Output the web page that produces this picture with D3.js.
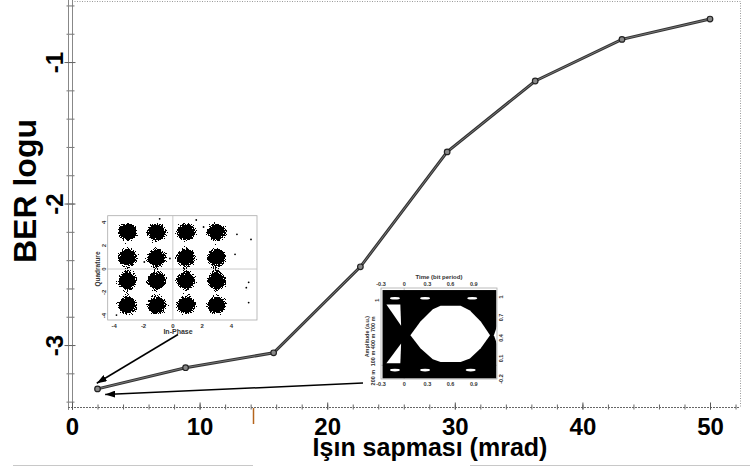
<!DOCTYPE html>
<html>
<head>
<meta charset="utf-8">
<script src="https://cdn.jsdelivr.net/npm/d3@7"></script>
<style>
  body { margin: 0; background: #fff; }
  svg { display: block; font-family: "Liberation Sans", Arial, sans-serif; }
</style>
</head>
<body>
<div id="chart-container"></div>
<script>
/**************************************************
 * Data
 **************************************************/

// Main curve: beam deviation (mrad) vs log of BER
const deviation = [2, 8.9, 15.8, 22.6, 29.4, 36.3, 43.1, 50];
const berLog = [-3.31, -3.16, -3.055, -2.447, -1.635, -1.134, -0.84, -0.696];

const xMajorTicks = [0, 10, 20, 30, 40, 50];
const yMajorTicks = [-3, -2, -1];

// Constellation inset (16-QAM clusters)
const iLevels = [-3.1, -1.1, 0.9, 3.0];
const qLevels = [3.2, 1.0, -1.0, -3.1];
const constOutliers = [[4.38, 2.97], [5.34, 2.54], [4.25, 1.26], [5.18, -1.14], [5.02, -1.6],
  [5.18, -2.88], [-3.85, -3.95], [1.6, 4.2], [-0.9, 4.3], [2.1, 3.6], [-1.95, 0.6], [-0.2, 0.9]];
const constTicks = [-4, -2, 0, 2, 4];

// Eye diagram inset
const eyeTimeTicks = [-0.3, 0, 0.3, 0.6, 0.9];
const eyeAmpTicks = [1, 0.7, 0.4, 0.1, -0.2];
const eyeDistLabels = ["200 m", "100 m", "400 m", "700 m"];
const eyeDistPos = [-0.18, 0.1, 0.35, 0.6];
// openings in the black trace area, [time, amplitude]
const eyeMain = [[0.08, 0.44], [0.21, 0.64], [0.37, 0.82], [0.47, 0.87], [0.73, 0.87],
  [0.85, 0.8], [0.99, 0.64], [1.11, 0.44], [0.99, 0.25], [0.85, 0.1], [0.73, 0.05],
  [0.47, 0.05], [0.37, 0.09], [0.21, 0.25]];
const eyeUpperLeft = [[-0.23, 0.89], [-0.05, 0.89], [-0.04, 0.58]];
const eyeLowerLeft = [[-0.23, 0.03], [-0.05, 0.03], [-0.04, 0.32]];
const eyeRight = [[1.16, 0.44], [1.2, 0.57], [1.2, 0.31]];
const eyeSlits = [[-0.12, 0.98], [0.27, 0.98], [0.88, 0.98], [-0.12, -0.07], [0.27, -0.07], [0.86, -0.07]];

/**************************************************
 * Rendering
 **************************************************/

const W = 750, H = 475;
const svg = d3.select("#chart-container")
  .append("svg")
  .attr("width", W)
  .attr("height", H);

const defs = svg.append("defs");

defs.append("marker")
  .attr("id", "arrow")
  .attr("markerUnits", "userSpaceOnUse")
  .attr("markerWidth", 10)
  .attr("markerHeight", 7)
  .attr("refX", 10)
  .attr("refY", 3.5)
  .attr("orient", "auto")
  .append("path")
  .attr("d", "M0,0 L10,3.5 L0,7 Z")
  .attr("fill", "#000");

// speckled cluster look for the constellation
const speck = defs.append("filter")
  .attr("id", "speck")
  .attr("filterUnits", "userSpaceOnUse")
  .attr("x", 90).attr("y", 210).attr("width", 180).attr("height", 120)
  .attr("color-interpolation-filters", "sRGB");
speck.append("feGaussianBlur").attr("in", "SourceAlpha").attr("stdDeviation", 5).attr("result", "b");
speck.append("feTurbulence").attr("type", "fractalNoise").attr("baseFrequency", 1.1)
  .attr("numOctaves", 1).attr("seed", 7).attr("result", "n");
speck.append("feColorMatrix").attr("in", "n").attr("type", "matrix")
  .attr("values", "0 0 0 0 0  0 0 0 0 0  0 0 0 0 0  1 0 0 0 0").attr("result", "na");
speck.append("feComposite").attr("in", "b").attr("in2", "na").attr("operator", "arithmetic")
  .attr("k1", 0).attr("k2", 1.7).attr("k3", 1.2).attr("k4", -0.9).attr("result", "c");
speck.append("feComponentTransfer").attr("in", "c")
  .append("feFuncA").attr("type", "discrete").attr("tableValues", "0 0 0 1 1");

// Scales
const xScale = d3.scaleLinear().domain([0, 52.35]).range([72, 740]);
const yScale = d3.scaleLinear().domain([-3.44, -0.57]).range([407.3, 1.2]);

// Plot frame (dotted top and right)
svg.append("path")
  .attr("d", `M72,1.5 H740.5 V407.5`)
  .attr("fill", "none")
  .attr("stroke", "#999")
  .attr("stroke-dasharray", "1,1.5");

// Left axis: double line with minor ticks
const yMinor = d3.range(-17, -2).map(v => v / 5);
const yAxisMinor = svg.append("g")
  .attr("transform", "translate(72.5,0)")
  .call(d3.axisLeft(yScale).tickValues(yMinor).tickSize(6).tickSizeOuter(0).tickFormat(""));
yAxisMinor.selectAll(".tick line").attr("x1", 2).attr("stroke", "#777");
yAxisMinor.select(".domain").attr("stroke", "#888").attr("d", "M0,0V410");
svg.append("line")
  .attr("x1", 68.5).attr("x2", 68.5).attr("y1", 0).attr("y2", 410)
  .attr("stroke", "#888");

const yAxisMajor = svg.append("g")
  .attr("transform", "translate(72.5,0)")
  .call(d3.axisLeft(yScale).tickValues(yMajorTicks).tickSize(8).tickSizeOuter(0).tickFormat(d3.format("d")));
yAxisMajor.select(".domain").remove();
yAxisMajor.selectAll(".tick line").attr("x1", 3).attr("stroke", "#666");
yAxisMajor.selectAll(".tick text")
  .attr("x", null).attr("dy", null)
  .attr("transform", "translate(-9.5,0) rotate(-90)")
  .attr("text-anchor", "middle")
  .attr("font-size", "24px")
  .attr("font-weight", "bold")
  .attr("fill", "#000")
  .attr("font-family", "Liberation Sans, Arial, sans-serif")
  .text(d => d3.format("d")(d).replace("−", "-"));

// Bottom axis
const xMinor = d3.range(0, 53, 2);
const xAxisMinor = svg.append("g")
  .attr("transform", "translate(0,407.5)")
  .call(d3.axisBottom(xScale).tickValues(xMinor).tickSize(-3).tickSizeOuter(0).tickFormat(""));
xAxisMinor.selectAll(".tick line").attr("y1", 2).attr("stroke", "#666");
xAxisMinor.select(".domain").attr("stroke", "#666").attr("stroke-dasharray", "2,1")
  .attr("d", "M68,0H740");

const xAxisMajor = svg.append("g")
  .attr("transform", "translate(0,407.5)")
  .call(d3.axisBottom(xScale).tickValues(xMajorTicks).tickSize(-5).tickSizeOuter(0));
xAxisMajor.select(".domain").remove();
xAxisMajor.selectAll(".tick line").attr("y1", 2).attr("stroke", "#555");
xAxisMajor.selectAll(".tick text")
  .attr("y", 27.5).attr("dy", null)
  .attr("font-size", "24px")
  .attr("font-weight", "bold")
  .attr("fill", "#000")
  .attr("font-family", "Liberation Sans, Arial, sans-serif");

// Axis titles
svg.append("text")
  .attr("transform", "translate(36,191) rotate(-90)")
  .attr("text-anchor", "middle")
  .attr("font-size", "32px")
  .attr("font-weight", "bold")
  .text("BER logu");

svg.append("text")
  .attr("x", 430)
  .attr("y", 456)
  .attr("text-anchor", "middle")
  .attr("font-size", "25px")
  .attr("font-weight", "bold")
  .text("Işın sapması (mrad)");

// stray marks below the chart
svg.append("line")
  .attr("x1", 253.5).attr("x2", 253.5).attr("y1", 408).attr("y2", 424)
  .attr("stroke", "#b5651d").attr("stroke-width", 1.5);
svg.append("path")
  .attr("d", "M13,465.5H253M470,465.5H750")
  .attr("stroke", "#c8c8c8").attr("fill", "none");

/**************************************************
 * Constellation inset
 **************************************************/
const iS = d3.scaleLinear().domain([-4.45, 5.75]).range([107.7, 257]);
const qS = d3.scaleLinear().domain([-4.37, 4.57]).range([320, 215.7]);
const cons = svg.append("g").attr("class", "inset-constellation");

cons.append("rect")
  .attr("x", iS.range()[0]).attr("y", qS.range()[1])
  .attr("width", iS.range()[1] - iS.range()[0])
  .attr("height", qS.range()[0] - qS.range()[1])
  .attr("fill", "#fff").attr("stroke", "#aaa").attr("stroke-width", 0.8);
cons.append("line")
  .attr("x1", iS(0)).attr("x2", iS(0)).attr("y1", qS.range()[1]).attr("y2", qS.range()[0])
  .attr("stroke", "#bbb").attr("stroke-width", 0.8);
cons.append("line")
  .attr("x1", iS.range()[0]).attr("x2", iS.range()[1]).attr("y1", qS(0)).attr("y2", qS(0))
  .attr("stroke", "#bbb").attr("stroke-width", 0.8);

const clusters = [];
qLevels.forEach(q => iLevels.forEach(i => clusters.push({ i, q })));
cons.append("g")
  .attr("filter", "url(#speck)")
  .selectAll("ellipse")
  .data(clusters)
  .enter()
  .append("ellipse")
  .attr("cx", d => iS(d.i))
  .attr("cy", d => qS(d.q))
  .attr("rx", 11)
  .attr("ry", 9.5)
  .attr("fill", "#000");

cons.selectAll("circle.outlier")
  .data(constOutliers)
  .enter()
  .append("circle")
  .attr("class", "outlier")
  .attr("cx", d => iS(d[0]))
  .attr("cy", d => qS(d[1]))
  .attr("r", 0.9)
  .attr("fill", "#000");

cons.selectAll("text.itick")
  .data(constTicks)
  .enter()
  .append("text")
  .attr("class", "itick")
  .attr("x", d => iS(d))
  .attr("y", 327.5)
  .attr("text-anchor", "middle")
  .attr("font-size", "6px")
  .attr("font-weight", "bold")
  .attr("fill", "#333")
  .text(d => d);

cons.selectAll("text.qtick")
  .data(constTicks)
  .enter()
  .append("text")
  .attr("class", "qtick")
  .attr("transform", d => `translate(105.5,${qS(d)}) rotate(-90)`)
  .attr("text-anchor", "middle")
  .attr("font-size", "6px")
  .attr("font-weight", "bold")
  .attr("fill", "#333")
  .text(d => d);

cons.append("text")
  .attr("x", 178).attr("y", 334)
  .attr("text-anchor", "middle")
  .attr("font-size", "7px")
  .attr("font-weight", "bold")
  .attr("fill", "#333")
  .text("In-Phase");

cons.append("text")
  .attr("transform", `translate(100,${qS(0)}) rotate(-90)`)
  .attr("text-anchor", "middle")
  .attr("font-size", "6.5px")
  .attr("font-weight", "bold")
  .attr("fill", "#333")
  .text("Quadrature");

/**************************************************
 * Eye diagram inset
 **************************************************/
const tS = d3.scaleLinear().domain([-0.3, 1.2]).range([381, 497]);
const aS = d3.scaleLinear().domain([-0.2, 1.13]).range([379, 288]);
const eye = svg.append("g").attr("class", "inset-eye");
const eyeLine = d3.line().x(d => tS(d[0])).y(d => aS(d[1]));

eye.append("rect")
  .attr("x", tS(-0.3)).attr("y", aS(1.13))
  .attr("width", tS(1.2) - tS(-0.3)).attr("height", aS(-0.2) - aS(1.13))
  .attr("fill", "#fff").attr("stroke", "#aaa").attr("stroke-width", 0.8);
eye.append("line")
  .attr("x1", tS(0)).attr("x2", tS(0)).attr("y1", aS(1.13)).attr("y2", aS(-0.2))
  .attr("stroke", "#bbb").attr("stroke-width", 0.8);
eye.append("line")
  .attr("x1", tS(-0.3)).attr("x2", tS(1.2)).attr("y1", aS(0)).attr("y2", aS(0))
  .attr("stroke", "#bbb").attr("stroke-width", 0.8);

const eyeMask = defs.append("mask").attr("id", "eyeMask");
eyeMask.append("rect").attr("x", 0).attr("y", 0).attr("width", W).attr("height", H).attr("fill", "#fff");
eyeMask.append("path")
  .attr("d", eyeLine.curve(d3.curveLinearClosed)(eyeMain))
  .attr("fill", "#000");
eyeLine.curve(d3.curveLinear);
[eyeUpperLeft, eyeLowerLeft, eyeRight].forEach(poly => {
  eyeMask.append("path").attr("d", eyeLine(poly) + "Z").attr("fill", "#000");
});
eyeMask.selectAll("ellipse")
  .data(eyeSlits)
  .enter()
  .append("ellipse")
  .attr("cx", d => tS(d[0]))
  .attr("cy", d => aS(d[1]))
  .attr("rx", 5)
  .attr("ry", 1.3)
  .attr("fill", "#000");

eye.append("rect")
  .attr("x", tS(-0.28)).attr("y", aS(1.1))
  .attr("width", tS(1.19) - tS(-0.28)).attr("height", aS(-0.19) - aS(1.1))
  .attr("fill", "#000")
  .attr("mask", "url(#eyeMask)");

const eyeFont = { size: "5.5px", fill: "#333" };
eye.selectAll("text.ttop")
  .data(eyeTimeTicks)
  .enter()
  .append("text")
  .attr("class", "ttop")
  .attr("x", d => tS(d)).attr("y", 286)
  .attr("text-anchor", "middle")
  .attr("font-size", eyeFont.size).attr("font-weight", "bold").attr("fill", eyeFont.fill)
  .text(d => d);
eye.selectAll("text.tbot")
  .data(eyeTimeTicks)
  .enter()
  .append("text")
  .attr("class", "tbot")
  .attr("x", d => tS(d)).attr("y", 386)
  .attr("text-anchor", "middle")
  .attr("font-size", eyeFont.size).attr("font-weight", "bold").attr("fill", eyeFont.fill)
  .text(d => d);
eye.selectAll("text.aright")
  .data(eyeAmpTicks)
  .enter()
  .append("text")
  .attr("class", "aright")
  .attr("transform", d => `translate(503,${aS(d)}) rotate(-90)`)
  .attr("text-anchor", "middle")
  .attr("font-size", eyeFont.size).attr("font-weight", "bold").attr("fill", eyeFont.fill)
  .text(d => d);
eye.append("text")
  .attr("transform", `translate(379,${aS(0.95)}) rotate(-90)`)
  .attr("text-anchor", "middle")
  .attr("font-size", eyeFont.size).attr("font-weight", "bold").attr("fill", eyeFont.fill)
  .text("1");
eye.selectAll("text.dist")
  .data(eyeDistLabels)
  .enter()
  .append("text")
  .attr("class", "dist")
  .attr("transform", (d, i) => `translate(375,${aS(eyeDistPos[i])}) rotate(-90)`)
  .attr("text-anchor", "middle")
  .attr("font-size", eyeFont.size).attr("font-weight", "bold").attr("fill", eyeFont.fill)
  .text(d => d);
eye.append("text")
  .attr("transform", `translate(369,${aS(0.42)}) rotate(-90)`)
  .attr("text-anchor", "middle")
  .attr("font-size", eyeFont.size).attr("font-weight", "bold").attr("fill", eyeFont.fill)
  .text("Amplitude (a.u.)");
eye.append("text")
  .attr("x", tS(0.45)).attr("y", 279)
  .attr("text-anchor", "middle")
  .attr("font-size", "6px").attr("font-weight", "bold").attr("fill", eyeFont.fill)
  .text("Time (bit period)");

/**************************************************
 * Main curve
 **************************************************/
const points = deviation.map((d, i) => ({ x: d, y: berLog[i] }));
const line = d3.line().x(d => xScale(d.x)).y(d => yScale(d.y));

svg.append("path")
  .datum(points)
  .attr("d", line)
  .attr("fill", "none")
  .attr("stroke", "#333")
  .attr("stroke-width", 3);
svg.append("path")
  .datum(points)
  .attr("d", line)
  .attr("fill", "none")
  .attr("stroke", "#777")
  .attr("stroke-width", 1);

svg.selectAll("circle.point")
  .data(points)
  .enter()
  .append("circle")
  .attr("class", "point")
  .attr("cx", d => xScale(d.x))
  .attr("cy", d => yScale(d.y))
  .attr("r", 2.8)
  .attr("fill", "#888")
  .attr("stroke", "#222")
  .attr("stroke-width", 1.2);

// Arrows from the insets to the first point
const arrows = [
  { from: [178, 334.5], to: [1.94, -3.27] },
  { from: [363, 383], to: [2.6, -3.35] }
];
svg.selectAll("line.arrow")
  .data(arrows)
  .enter()
  .append("line")
  .attr("class", "arrow")
  .attr("x1", d => d.from[0])
  .attr("y1", d => d.from[1])
  .attr("x2", d => xScale(d.to[0]))
  .attr("y2", d => yScale(d.to[1]))
  .attr("stroke", "#000")
  .attr("stroke-width", 1.5)
  .attr("marker-end", "url(#arrow)");
</script>
</body>
</html>
